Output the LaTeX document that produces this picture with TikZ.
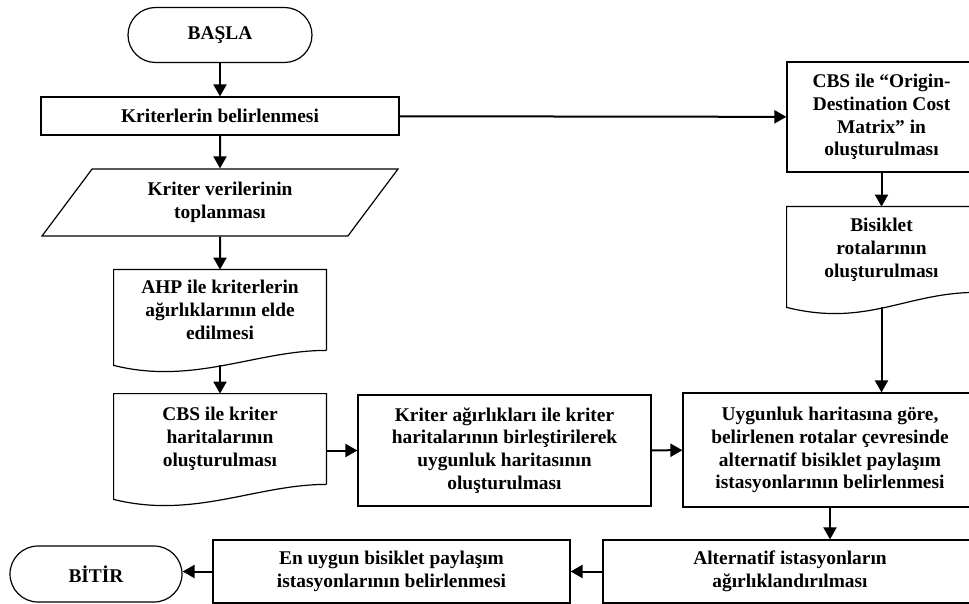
\documentclass[tikz,border=0pt]{standalone}
\usepackage{fontspec}
\setmainfont{Liberation Serif}
\usetikzlibrary{arrows.meta,shapes.geometric}
\tikzset{
  txt/.style={align=center,inner sep=2pt,font=\fontsize{9.7}{11.4}\selectfont\bfseries},
  box/.style={txt,draw,line width=0.6pt},
  term/.style={box,rounded corners=13.75pt},
  datain/.style={box,trapezium,trapezium left angle=44,trapezium right angle=136,trapezium stretches body},
  doc/.style={txt},
  flow/.style={-{Triangle[length=6pt,width=6.5pt]},line width=1pt}
}
\begin{document}
\begin{tikzpicture}[x=0.5pt,y=-0.5pt]
\useasboundingbox (0,0) rectangle (969,604);
\node[term,minimum width=92pt,minimum height=27.5pt] (basla) at (220,35) {BAŞLA};
\node[box,minimum width=179pt,minimum height=19pt] (kriter) at (220,116) {Kriterlerin belirlenmesi};
\node[datain,minimum width=178pt,minimum height=33.5pt] (veri) at (220,202.5) {Kriter verilerinin\\toplanması};
\node[doc,minimum width=106pt,minimum height=40pt] (ahp) at (220,310) {AHP ile kriterlerin\\ağırlıklarının elde\\edilmesi};
\node[doc,minimum width=106pt,minimum height=45pt] (kcbs) at (220,439) {CBS ile kriter\\haritalarının\\oluşturulması};
\node[box,minimum width=146.5pt,minimum height=55.5pt] (agir) at (504.5,450.5) {Kriter ağırlıkları ile kriter\\haritalarının birleştirilerek\\uygunluk haritasının\\oluşturulması};
\node[box,minimum width=147pt,minimum height=57pt] (uyg) at (830,450) {Uygunluk haritasına göre,\\belirlenen rotalar çevresinde\\alternatif bisiklet paylaşım\\istasyonlarının belirlenmesi};
\node[box,minimum width=94.5pt,minimum height=55pt] (orig) at (881.5,117) {CBS ile “Origin-\\Destination Cost\\Matrix” in\\oluşturulması};
\node[doc,minimum width=94.5pt,minimum height=42.5pt] (bis) at (881.5,249.5) {Bisiklet\\rotalarının\\oluşturulması};
\node[box,minimum width=187pt,minimum height=31.5pt] (alt) at (790,571.5) {Alternatif istasyonların\\ağırlıklandırılması};
\node[box,minimum width=178.5pt,minimum height=31.5pt] (enuy) at (391.5,571.5) {En uygun bisiklet paylaşım\\istasyonlarının belirlenmesi};
\node[term,minimum width=86pt,minimum height=28pt,rounded corners=14pt] (bitir) at (96,574) {BİTİR};
\foreach \docname in {ahp,kcbs,bis}
  \draw[line width=0.6pt] (\docname.south east) -- (\docname.north east) -- (\docname.north west) -- ([yshift=-7.5pt]\docname.south west) .. controls +(80,20) and +(-70,0) .. (\docname.south east);
\draw[flow] (basla) -- (kriter);
\draw[flow] (kriter) -- (veri);
\draw[flow] (veri) -- (ahp);
\draw[flow] ([yshift=-7.5pt]ahp.south) -- (kcbs);
\draw[flow] (kcbs.east |- agir.west) -- (agir.west);
\draw[flow] (agir) -- (uyg);
\draw[flow] (kriter) -- (orig);
\draw[flow] (orig) -- (bis);
\draw[flow] ([yshift=-7.5pt]bis.south) -- (bis.south |- uyg.north);
\draw[flow] (uyg.south) -- (uyg.south |- alt.north);
\draw[flow] (alt) -- (enuy);
\draw[flow] (enuy.west) -- (enuy.west -| bitir.east);
\end{tikzpicture}
\end{document}
